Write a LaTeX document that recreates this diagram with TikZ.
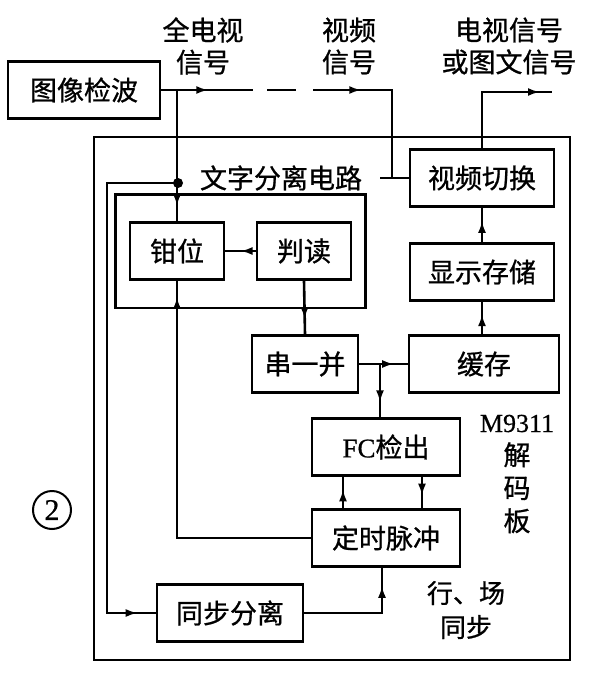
\documentclass[tikz,border=0pt]{standalone}
\usepackage{fontspec}
\newfontfamily\cjk[FakeBold=0.8]{Noto Sans CJK SC}
\newfontfamily\latin[FakeBold=0.6]{Liberation Serif}
\usetikzlibrary{arrows.meta,decorations.markings,fit,calc}
\tikzset{
  blk/.style={
    draw, line width=2.6pt, inner sep=0pt,
    minimum height=57pt,
    font=\cjk\fontsize{27}{30}\selectfont
  },
  frame/.style={draw, line width=2.6pt, inner sep=0pt},
  wire/.style={line width=2.6pt},
  lbl/.style={inner sep=0pt, align=center, font=\cjk\fontsize{27}{32}\selectfont},
  midarr/.style={
    postaction={decorate},
    decoration={markings,
      mark=at position #1 with {\arrow{Latex[length=12pt,width=8pt]}}}
  }
}

\begin{document}
\begin{tikzpicture}[x=1pt,y=-1pt]
  \useasboundingbox (0,0) rectangle (590,674);

  % blocks
  \node[blk, minimum width=152pt] (jianbo) at (84,90) {图像检波};
  \node[blk, minimum width=144pt] (qiehuan) at (482,178) {视频切换};
  \node[blk, minimum width=144pt] (cunchu) at (482,272) {显示存储};
  \node[blk, minimum width=150pt] (huancun) at (484,364) {缓存};
  \node[blk, minimum width=94pt] (qianwei) at (177,251) {钳位};
  \node[blk, minimum width=94pt] (pandu) at (304,251) {判读};
  \node[blk, minimum width=106pt] (chuanbing) at (305,364) {串一并};
  \node[blk, minimum width=148pt] (fc) at (386,447) {{\latin FC}检出};
  \node[blk, minimum width=148pt] (dingshi) at (386,538) {定时脉冲};
  \node[blk, minimum width=146pt] (tongbu) at (230,613) {同步分离};

  % frames
  \node[frame, fit=(qianwei)(pandu), inner xsep=13pt, inner ysep=27pt] (wenzi) {};
  \draw[wire] (94,137) rectangle (570,660);

  % labels
  \node[lbl] (lquan) at (203,46) {全电视\\信号};
  \node[lbl] (lvideo) at (349,46) {视频\\信号};
  \node[lbl] (ltv) at (509,46) {电视信号\\或图文信号};
  \node[lbl] (lwenzi) at (281,178) {文字分离电路};
  \node[lbl, font=\cjk\fontsize{27}{33}\selectfont] (lboard) at (517,474)
    {{\latin\fontsize{26}{33}\selectfont M9311}\\解\\码\\板};
  \node[lbl, font=\cjk\fontsize{26}{34}\selectfont] (lsync) at (466,610) {行、场\\同步};
  \node[draw, circle, line width=2pt, minimum size=38pt, inner sep=0pt,
    font=\latin\fontsize{30}{30}\selectfont] (num) at (52,510) {2};

  % points
  \coordinate (j1) at (jianbo.east -| qianwei.north);
  \coordinate (vtop) at (392,90);
  \coordinate (vbot) at (392,178);
  \coordinate (lead) at (380,178);
  \coordinate (dot) at (178,183);
  \coordinate (lft) at (107,183);
  \coordinate (j2) at (380,364);
  \coordinate (tvout) at (552,92);

  % connectors
  \draw[wire, dash pattern=on 92pt off 14pt on 29pt off 17pt on 500pt,
    postaction={decorate},
    decoration={markings,
      mark=at position 47pt with {\arrow{Latex[length=12pt,width=8pt]}},
      mark=at position 200pt with {\arrow{Latex[length=12pt,width=8pt]}}}]
    (jianbo.east) -- (vtop) -- (vbot);
  \draw[wire] (lead) -- (qiehuan.west);
  \draw[wire, midarr=-15pt] (j1) -- (qianwei.north);
  \fill (dot) circle (5);
  \draw[wire, midarr=-18pt] (dot) -- (lft) |- (tongbu.west);
  \draw[wire, midarr=0.5] (pandu.west) -- (qianwei.east);
  \draw[wire, midarr=0.72] (pandu.south) -- (chuanbing.north);
  \draw[wire, midarr=0.72] (chuanbing.east) -- (huancun.west);
  \draw[wire, midarr=0.72] (j2) -- (j2 |- fc.north);
  \draw[wire, midarr=0.62] (huancun.north -| cunchu.south) -- (cunchu.south);
  \draw[wire, midarr=0.62] (cunchu.north) -- (qiehuan.south);
  \draw[wire, midarr=-12pt] (qiehuan.north) |- (tvout);
  \draw[wire, midarr=0.6] ([xshift=-43pt]dingshi.north) -- ([xshift=-43pt]fc.south);
  \draw[wire, midarr=0.6] ([xshift=36pt]fc.south) -- ([xshift=36pt]dingshi.north);
  \draw[wire, midarr=-16pt] (dingshi.west) -| (qianwei.south);
  \draw[wire, midarr=-18pt] (tongbu.east) -| ([xshift=-4pt]dingshi.south);
\end{tikzpicture}
\end{document}
